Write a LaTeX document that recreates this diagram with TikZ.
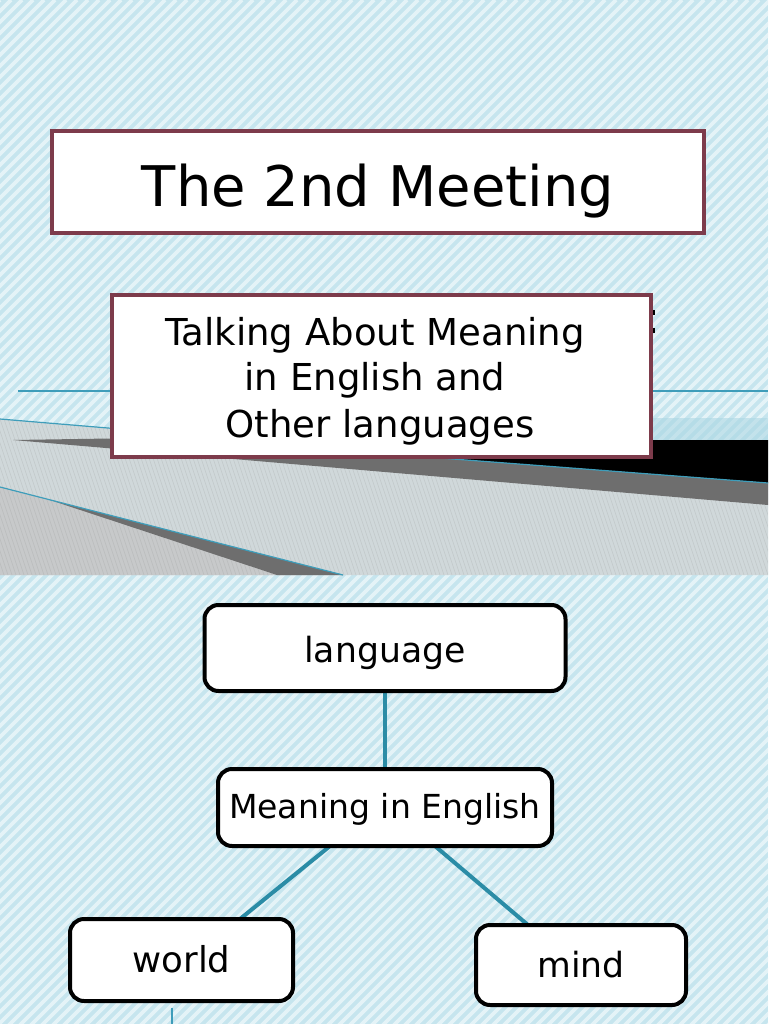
\documentclass[tikz,border=0pt]{standalone}
\usepackage{fontspec}
\setmainfont{DejaVu Sans}
\definecolor{bgblue}{HTML}{C6E5EE}
\definecolor{stripecol}{HTML}{E4F3F7}
\definecolor{bandblue}{HTML}{A8D5E2}
\definecolor{floorgray}{HTML}{D0D8DA}
\definecolor{lowgray}{HTML}{C7C9CA}
\definecolor{darkband}{HTML}{6E6E6E}
\definecolor{thinteal}{HTML}{3E9DBA}
\definecolor{maroon}{HTML}{7D3B4B}
\definecolor{conncol}{HTML}{2B8CA6}
\begin{document}
\begin{tikzpicture}[x=0.75pt,y=-0.75pt,
  stripe/.style={draw=stripecol,line width=2.8pt},
  texture/.style={draw=gray,line width=0.4pt,opacity=0.18},
  thinline/.style={draw=thinteal,line width=0.9pt},
  slidebox/.style={draw=maroon,fill=white,line width=3pt,inner sep=0pt},
  mapbox/.style={draw=black,fill=white,line width=3pt,rounded corners=10.5pt,inner sep=0pt,text depth=0pt},
  conn/.style={draw=conncol,line width=3pt},
  subtext/.style={anchor=base,inner sep=0pt,font=\fontsize{27.8}{34}\selectfont}
]
\useasboundingbox (0,0) rectangle (768,1024);
% background with diagonal stripes
\fill[bgblue] (0,0) rectangle (768,1024);
\begin{scope}
  \clip (0,0) rectangle (768,1024);
  \foreach \c in {0,11,...,1810} \draw[stripe] (\c,0) -- ++(-1030,1030);
\end{scope}

% ---- top slide scenery ----
\fill[bandblue,fill opacity=0.55] (600,418) rectangle (768,440);
\fill[floorgray] (0,419) -- (768,482) -- (768,575) -- (0,575) -- cycle;
\fill[lowgray] (0,487) -- (343,575) -- (0,575) -- cycle;
\begin{scope}
  \clip (0,419) -- (768,482) -- (768,575) -- (0,575) -- cycle;
  \foreach \c in {-200,-196,...,770} \draw[texture] (\c,419) -- ++(52,156);
\end{scope}
\fill[darkband] (50,500) -- (343,575) -- (277,575) -- cycle;
\draw[thinline] (0,487) -- (343,575);
\fill[black] (420,440) -- (768,440) -- (768,483) -- (440,458) -- cycle;
\fill[darkband] (13,440) -- (110,438.5) -- (440,458) -- (768,483) -- (768,505) -- cycle;
\draw[thinline] (440,458) -- (768,483);
\draw[thinline] (0,419) -- (120,429);
\draw[thinline] (18,391) -- (768,391);

% ---- top slide boxes ----
\node[slidebox,minimum width=489.4pt,minimum height=76.9pt,
      text height=36pt,text depth=0pt,font=\fontsize{42}{50}\selectfont]
      (title) at (378,182) {The 2nd Meeting};
\fill[black] (652,310) rectangle (655,315);
\fill[black] (652,328) rectangle (655,333);
\node[slidebox,minimum width=404.25pt,minimum height=121.5pt] (sub) at (381.5,376) {};
\node[subtext] (sub1) at (375,345) {Talking About Meaning};
\node[subtext] (sub2) at (375,390) {in English and};
\node[subtext] (sub3) at (380,437) {Other languages};

% ---- bottom slide map ----
\coordinate (lc) at (385,648);
\coordinate (mc) at (385,807.5);
\coordinate (wc) at (181.5,960);
\coordinate (dc) at (581,965);
\draw[conn] (lc) -- (mc);
\draw[conn] ([xshift=-41.25pt,yshift=-28.9pt]mc) -- ([xshift=43.9pt,yshift=30.75pt]wc);
\draw[conn] ([xshift=37.5pt,yshift=-28.9pt]mc) -- ([xshift=-39.75pt,yshift=30pt]dc);
\node[mapbox,minimum width=270.75pt,minimum height=64.5pt,text height=21pt,
      font=\fontsize{26}{30}\selectfont] (lang) at (lc) {language};
\node[mapbox,minimum width=250.5pt,minimum height=57.75pt,text height=16pt,
      font=\fontsize{24.8}{28}\selectfont] (mean) at (mc) {Meaning in English};
\node[mapbox,minimum width=167.25pt,minimum height=61.5pt,text height=18pt,
      font=\fontsize{26.7}{30}\selectfont] (world) at (wc) {world};
\node[mapbox,minimum width=157.5pt,minimum height=60pt,text height=18pt,
      font=\fontsize{26}{30}\selectfont] (mind) at (dc) {mind};

\coordinate (tl1) at (172,1008);
\coordinate (tl2) at (172,1024);
\draw[thinline] (tl1) -- (tl2);
\end{tikzpicture}
\end{document}
